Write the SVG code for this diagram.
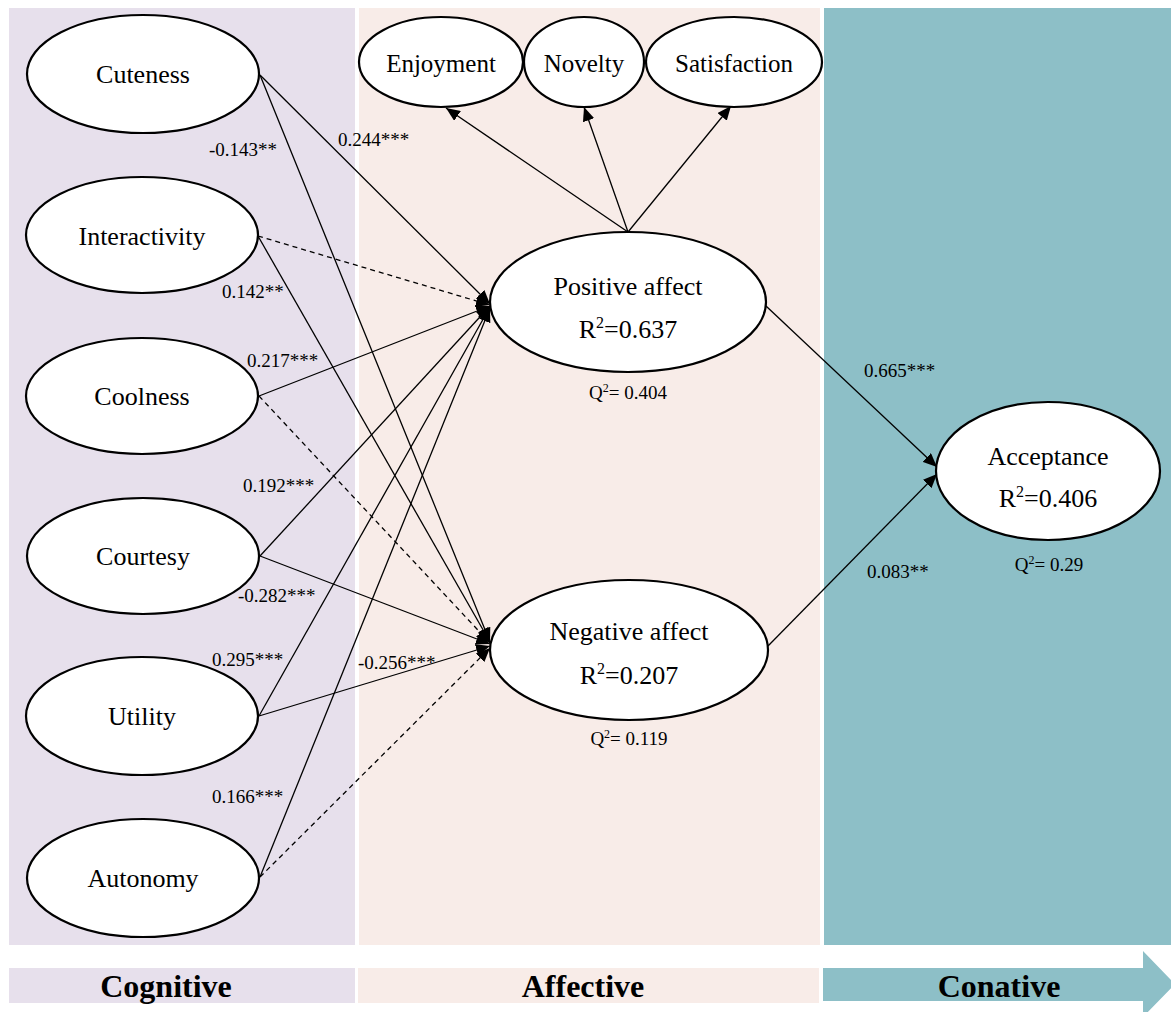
<svg xmlns="http://www.w3.org/2000/svg" width="1171" height="1012" viewBox="0 0 1171 1012">
<style>
.node ellipse{fill:#fff;stroke:#000;stroke-width:2.2}
.nt{font-family:"Liberation Serif","Times New Roman",serif;font-size:26px;text-anchor:middle;fill:#000}
.tt{font-family:"Liberation Serif","Times New Roman",serif;font-size:25px;text-anchor:middle;fill:#000}
.el{font-family:"Liberation Serif","Times New Roman",serif;font-size:19px;fill:#000}
.q{font-family:"Liberation Serif","Times New Roman",serif;font-size:19px;text-anchor:middle;fill:#000}
.band{font-family:"Liberation Serif","Times New Roman",serif;font-size:32px;font-weight:bold;text-anchor:middle;fill:#000}
#connectors line{stroke:#000;stroke-width:1.3;fill:none}
#connectors line.d{stroke-dasharray:5,4}
</style>
<defs>
<marker id="ah" markerUnits="userSpaceOnUse" markerWidth="14" markerHeight="12" refX="14" refY="6" orient="auto">
<path d="M0,0 L14,6 L0,12 z" fill="#000"/>
</marker>
</defs>
<rect width="1171" height="1012" fill="#fff"/>
<g id="panels">
<rect x="9" y="8" width="346" height="937" fill="#E7E0EC"/>
<rect x="359" y="8" width="461" height="937" fill="#F8ECE8"/>
<rect x="824" y="8" width="347" height="937" fill="#8DBFC7"/>
</g>
<g id="bands">
<rect x="9" y="968" width="346" height="35" fill="#E7E0EC"/>
<rect x="358" y="968" width="461" height="35" fill="#F8ECE8"/>
<path d="M823,968 L1143,968 L1143,951 L1175,984 L1143,1017 L1143,1001 L823,1001 z" fill="#8DBFC7"/>
<text class="band" x="166" y="997">Cognitive</text>
<text class="band" x="583" y="997">Affective</text>
<text class="band" x="999" y="997">Conative</text>
</g>
<g id="connectors">
<line x1="260" y1="75" x2="490" y2="304" marker-end="url(#ah)"/>
<line class="d" x1="258" y1="236" x2="490" y2="305" marker-end="url(#ah)"/>
<line x1="259" y1="396" x2="490" y2="306" marker-end="url(#ah)"/>
<line x1="260" y1="556" x2="490" y2="306" marker-end="url(#ah)"/>
<line x1="259" y1="716" x2="490" y2="307" marker-end="url(#ah)"/>
<line x1="260" y1="877" x2="490" y2="308" marker-end="url(#ah)"/>
<line x1="260" y1="75" x2="490" y2="642" marker-end="url(#ah)"/>
<line x1="258" y1="236" x2="490" y2="642" marker-end="url(#ah)"/>
<line class="d" x1="259" y1="396" x2="490" y2="643" marker-end="url(#ah)"/>
<line x1="260" y1="556" x2="490" y2="644" marker-end="url(#ah)"/>
<line x1="259" y1="716" x2="490" y2="646" marker-end="url(#ah)"/>
<line class="d" x1="260" y1="877" x2="490" y2="648" marker-end="url(#ah)"/>
<line x1="628" y1="232" x2="446" y2="108" marker-end="url(#ah)"/>
<line x1="628" y1="232" x2="584" y2="107" marker-end="url(#ah)"/>
<line x1="628" y1="232" x2="731" y2="106" marker-end="url(#ah)"/>
<line x1="766" y1="306" x2="937" y2="467" marker-end="url(#ah)"/>
<line x1="768" y1="646" x2="937" y2="474" marker-end="url(#ah)"/>
<text class="el" x="209" y="156">-0.143**</text>
<text class="el" x="338" y="146">0.244***</text>
<text class="el" x="222" y="298">0.142**</text>
<text class="el" x="247" y="367">0.217***</text>
<text class="el" x="243" y="492">0.192***</text>
<text class="el" x="238" y="602">-0.282***</text>
<text class="el" x="212" y="666">0.295***</text>
<text class="el" x="358" y="669">-0.256***</text>
<text class="el" x="212" y="803">0.166***</text>
<text class="el" x="864" y="377">0.665***</text>
<text class="el" x="867" y="578">0.083**</text>
</g>
<g id="cuteness" class="node"><ellipse cx="143" cy="74" rx="116" ry="59"/><text class="nt" x="143" y="83">Cuteness</text></g>
<g id="interactivity" class="node"><ellipse cx="142" cy="235" rx="116" ry="58"/><text class="nt" x="142" y="245">Interactivity</text></g>
<g id="coolness" class="node"><ellipse cx="142" cy="396" rx="116" ry="58"/><text class="nt" x="142" y="405">Coolness</text></g>
<g id="courtesy" class="node"><ellipse cx="143" cy="556" rx="116" ry="58"/><text class="nt" x="143" y="565">Courtesy</text></g>
<g id="utility" class="node"><ellipse cx="142" cy="716" rx="116" ry="59"/><text class="nt" x="142" y="725">Utility</text></g>
<g id="autonomy" class="node"><ellipse cx="143" cy="878" rx="116" ry="59"/><text class="nt" x="143" y="887">Autonomy</text></g>
<g id="enjoyment" class="node"><ellipse cx="441" cy="62" rx="82" ry="45"/><text class="tt" x="441" y="72">Enjoyment</text></g>
<g id="novelty" class="node"><ellipse cx="584" cy="62" rx="60" ry="45"/><text class="tt" x="584" y="72">Novelty</text></g>
<g id="satisfaction" class="node"><ellipse cx="734" cy="62" rx="88" ry="45"/><text class="tt" x="734" y="72">Satisfaction</text></g>
<g id="positive-affect" class="node"><ellipse cx="628" cy="302" rx="138" ry="70"/><text class="nt" x="628" y="295">Positive affect</text><text class="nt" x="628" y="338">R<tspan font-size="16" dy="-10">2</tspan><tspan dy="10">=0.637</tspan></text><text class="q" x="628" y="399">Q<tspan font-size="12" dy="-7">2</tspan><tspan dy="7">= 0.404</tspan></text></g>
<g id="negative-affect" class="node"><ellipse cx="629" cy="650" rx="139" ry="70"/><text class="nt" x="629" y="640">Negative affect</text><text class="nt" x="629" y="684">R<tspan font-size="16" dy="-10">2</tspan><tspan dy="10">=0.207</tspan></text><text class="q" x="629" y="745">Q<tspan font-size="12" dy="-7">2</tspan><tspan dy="7">= 0.119</tspan></text></g>
<g id="acceptance" class="node"><ellipse cx="1048" cy="471" rx="112" ry="69"/><text class="nt" x="1048" y="465">Acceptance</text><text class="nt" x="1048" y="507">R<tspan font-size="16" dy="-10">2</tspan><tspan dy="10">=0.406</tspan></text><text class="q" x="1049" y="571">Q<tspan font-size="12" dy="-7">2</tspan><tspan dy="7">= 0.29</tspan></text></g>
</svg>
